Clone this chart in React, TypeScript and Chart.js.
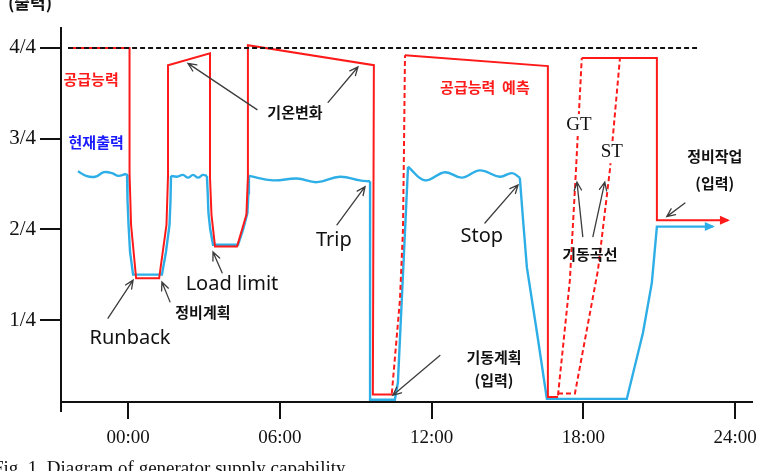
import React, { useEffect, useRef } from "react";
import { Chart, registerables } from "chart.js";

Chart.register(...registerables);

type P = [number, number];

// ---- axes ----
const xTicks = [0, 6, 12, 18, 24];
const xTickLabels = ["00:00", "06:00", "12:00", "18:00", "24:00"];
const yTicks = [1, 2, 3, 4];
const yTickLabels = ["1/4", "2/4", "3/4", "4/4"];

// ---- series (x = hour, y = output in quarters of rated) ----
const ratedCapacity: P[] = [[-2.37, 4.0], [22.61, 4.0]];

const redCapability: P[] = [
  [-2.37, 4.0], [0.06, 4.0], [0.06, 2.62], [0.12, 2.05], [0.32, 1.46], [1.23, 1.46],
  [1.52, 2.05], [1.58, 2.58], [1.58, 3.81], [3.24, 3.94], [3.24, 2.58], [3.3, 2.16],
  [3.44, 1.81], [4.31, 1.81], [4.68, 2.16], [4.74, 2.58], [4.74, 4.03], [9.72, 3.81],
  [9.68, 0.18], [10.47, 0.18],
];
const redForecastRise: P[] = [[10.43, 0.19], [10.75, 1.22], [10.87, 1.99], [10.91, 2.88], [10.95, 3.92]];
const redForecast: P[] = [[10.95, 3.92], [16.6, 3.8], [16.6, 0.15], [17.0, 0.15]];
const gtStartCurve: P[] = [[17.0, 0.17], [17.47, 1.44], [17.71, 2.65], [17.94, 3.89]];
const stStartCurve: P[] = [[17.0, 0.19], [17.67, 0.19], [18.58, 1.55], [19.05, 2.65], [19.45, 3.89]];
const redAfterStart: P[] = [[17.94, 3.89], [20.91, 3.89], [20.91, 2.1], [23.72, 2.1]];

const blueWave1: P[] = [[-1.98, 2.64], [-1.66, 2.59], [-1.3, 2.58], [-0.95, 2.63], [-0.63, 2.62], [-0.4, 2.59], [-0.08, 2.61]];
const blueRunback: P[] = [
  [-0.08, 2.61], [-0.04, 2.6], [-0.02, 2.32], [0.02, 2.05], [0.08, 1.75], [0.2, 1.5], [1.34, 1.5],
  [1.5, 1.75], [1.64, 2.05], [1.68, 2.32], [1.7, 2.59],
];
const blueWave2: P[] = [[1.7, 2.59], [1.94, 2.58], [2.17, 2.6], [2.37, 2.57], [2.57, 2.6], [2.77, 2.57], [2.96, 2.6], [3.12, 2.59]];
const blueLoadLimit: P[] = [
  [3.12, 2.59], [3.15, 2.4], [3.18, 2.18], [3.25, 2.0], [3.36, 1.83], [4.35, 1.83],
  [4.55, 2.0], [4.72, 2.18], [4.76, 2.4], [4.78, 2.59],
];
const blueWave3: P[] = [[4.78, 2.59], [5.73, 2.54], [6.68, 2.56], [7.47, 2.52], [8.38, 2.58], [9.17, 2.54], [9.49, 2.53], [9.57, 2.53]];
const blueTrip: P[] = [[9.57, 2.53], [9.57, 0.12], [10.55, 0.12], [10.67, 0.31], [11.07, 2.69]];
const blueWave4: P[] = [[11.07, 2.69], [11.74, 2.54], [12.53, 2.63], [13.2, 2.57], [13.91, 2.65], [14.7, 2.58], [15.18, 2.62], [15.49, 2.57]];
const blueStop: P[] = [
  [15.49, 2.57], [15.62, 2.1], [15.77, 1.58], [16.17, 0.86], [16.56, 0.13], [19.72, 0.13],
  [20.36, 0.86], [20.71, 1.41], [20.91, 2.03], [23.12, 2.03],
];

// arrow heads at line ends: [x, y, color]
const lineEnds: [number, number, string][] = [[23.72, 2.1, "#ff1a1a"], [23.12, 2.03, "#2eaee6"]];

// pointer arrows: [fromX, fromY, toX, toY]
const pointers: [number, number, number, number][] = [
  [5.1, 3.32, 2.37, 3.83],
  [7.91, 3.4, 9.09, 3.79],
  [-0.79, 1.02, 0.2, 1.44],
  [1.66, 1.2, 1.34, 1.42],
  [3.72, 1.52, 3.36, 1.75],
  [8.26, 2.05, 9.37, 2.47],
  [14.11, 2.07, 15.42, 2.49],
  [12.33, 0.61, 10.47, 0.17],
  [17.98, 1.92, 17.75, 2.52],
  [18.38, 1.92, 18.85, 2.52],
  [22.02, 2.29, 21.3, 2.14],
];

const KR = '"Noto Sans CJK KR", sans-serif';
const EN = '"Noto Sans", sans-serif';
const SERIF = '"Liberation Serif", "Times New Roman", serif';

// labels: [text, x, y, color, font, whiteBg]
const labels: [string, number, number, string, string, boolean][] = [
  ["공급능력", -1.46, 3.65, "#ff1a1a", `bold 15px ${KR}`, false],
  ["현재출력", -1.26, 2.96, "#1a1aff", `bold 15px ${KR}`, false],
  ["공급능력  예측", 14.11, 3.57, "#ff1a1a", `bold 15px ${KR}`, false],
  ["기온변화", 6.6, 3.29, "#111", `bold 15px ${KR}`, false],
  ["Runback", 0.08, 0.8, "#111", `20px ${EN}`, false],
  ["정비계획", 2.96, 1.09, "#111", `bold 15px ${KR}`, false],
  ["Load limit", 4.11, 1.39, "#111", `20px ${EN}`, false],
  ["Trip", 8.14, 1.88, "#111", `20px ${EN}`, false],
  ["Stop", 13.99, 1.92, "#111", `20px ${EN}`, false],
  ["기동계획", 14.47, 0.59, "#111", `bold 15px ${KR}`, false],
  ["(입력)", 14.47, 0.34, "#111", `bold 15px ${KR}`, false],
  ["기동곡선", 18.26, 1.72, "#111", `bold 15px ${KR}`, false],
  ["GT", 17.83, 3.15, "#111", `19px ${SERIF}`, true],
  ["ST", 19.13, 2.85, "#111", `19px ${SERIF}`, true],
  ["정비작업", 23.2, 2.8, "#111", `bold 15px ${KR}`, false],
  ["(입력)", 23.2, 2.51, "#111", `bold 15px ${KR}`, false],
];

const caption = "Fig. 1. Diagram of generator supply capability";
const yTitle = "(출력)";

const RED = "#ff1a1a";
const BLUE = "#2eaee6";

function ds(points: P[], color: string, opts: any = {}) {
  return {
    data: points.map(([x, y]) => ({ x, y })),
    borderColor: color,
    backgroundColor: color,
    borderWidth: 2,
    pointRadius: 0,
    showLine: true,
    fill: false,
    tension: 0,
    ...opts,
  };
}

const overlay = {
  id: "overlay",
  afterDatasetsDraw(chart: any) {
    const { ctx } = chart;
    const xs = chart.scales.x;
    const ys = chart.scales.y;
    const px = (h: number) => xs.getPixelForValue(h);
    const py = (v: number) => ys.getPixelForValue(v);
    ctx.save();
    for (const [h, v, c] of lineEnds) {
      const x = px(h);
      const y = py(v);
      ctx.fillStyle = c;
      ctx.beginPath();
      ctx.moveTo(x + 2, y);
      ctx.lineTo(x - 8, y - 4.5);
      ctx.lineTo(x - 8, y + 4.5);
      ctx.closePath();
      ctx.fill();
    }
    ctx.strokeStyle = "#3c3c3c";
    ctx.lineWidth = 1.3;
    ctx.lineCap = "round";
    for (const [h0, v0, h1, v1] of pointers) {
      const x0 = px(h0), y0 = py(v0), x1 = px(h1), y1 = py(v1);
      const a = Math.atan2(y1 - y0, x1 - x0);
      ctx.beginPath();
      ctx.moveTo(x0, y0);
      ctx.lineTo(x1, y1);
      const L = 9, w = 0.42;
      ctx.moveTo(x1 - L * Math.cos(a - w), y1 - L * Math.sin(a - w));
      ctx.lineTo(x1, y1);
      ctx.lineTo(x1 - L * Math.cos(a + w), y1 - L * Math.sin(a + w));
      ctx.stroke();
    }
    ctx.textAlign = "center";
    ctx.textBaseline = "middle";
    for (const [t, h, v, c, f, bg] of labels) {
      ctx.font = f;
      const x = px(h), y = py(v);
      if (bg) {
        const w = ctx.measureText(t).width;
        ctx.fillStyle = "#fff";
        ctx.fillRect(x - w / 2 - 2, y - 11, w + 4, 22);
      }
      ctx.fillStyle = c;
      ctx.fillText(t, x, y);
    }
    ctx.restore();
  },
  afterDraw(chart: any) {
    const { ctx } = chart;
    const xs = chart.scales.x;
    const ys = chart.scales.y;
    ctx.save();
    ctx.strokeStyle = "#111";
    ctx.lineWidth = 2;
    ctx.beginPath();
    ctx.moveTo(xs.left, ys.bottom);
    ctx.lineTo(xs.left, ys.bottom + 10);
    ctx.stroke();
    ctx.fillStyle = "#111";
    ctx.font = `bold 17px ${KR}`;
    ctx.textAlign = "center";
    ctx.textBaseline = "middle";
    ctx.fillText(yTitle, 30, 3);
    ctx.font = `19px ${SERIF}`;
    ctx.textAlign = "left";
    ctx.textBaseline = "alphabetic";
    ctx.fillText(caption, -7, 474);
    ctx.restore();
  },
};

export default function App() {
  const ref = useRef<HTMLCanvasElement | null>(null);
  useEffect(() => {
    if (!ref.current) return;
    const chart = new Chart(ref.current, {
      type: "scatter",
      data: {
        datasets: [
          ds(ratedCapacity, "#111", { borderDash: [5, 3], order: 0 }),
          ds(redCapability, RED, { order: 1 }),
          ds(redForecastRise, RED, { borderDash: [5, 3], order: 1 }),
          ds(redForecast, RED, { order: 1 }),
          ds(gtStartCurve, RED, { borderDash: [5, 3], order: 1 }),
          ds(stStartCurve, RED, { borderDash: [5, 3], order: 1 }),
          ds(redAfterStart, RED, { order: 1 }),
          ds(blueWave1, BLUE, { tension: 0.4, order: 2, borderWidth: 2.4 }),
          ds(blueRunback, BLUE, { order: 2, borderWidth: 2.4 }),
          ds(blueWave2, BLUE, { tension: 0.4, order: 2, borderWidth: 2.4 }),
          ds(blueLoadLimit, BLUE, { order: 2, borderWidth: 2.4 }),
          ds(blueWave3, BLUE, { tension: 0.4, order: 2, borderWidth: 2.4 }),
          ds(blueTrip, BLUE, { order: 2, borderWidth: 2.4 }),
          ds(blueWave4, BLUE, { tension: 0.4, order: 2, borderWidth: 2.4 }),
          ds(blueStop, BLUE, { order: 2, borderWidth: 2.4 }),
        ],
      },
      options: {
        responsive: false,
        animation: false,
        events: [],
        layout: { padding: { top: 28, right: 13, left: 0, bottom: 0 } },
        plugins: { legend: { display: false }, tooltip: { enabled: false } },
        scales: {
          x: {
            type: "linear",
            min: -2.65,
            max: 24.66,
            afterBuildTicks: (s: any) => {
              s.ticks = xTicks.map((v) => ({ value: v }));
            },
            afterFit: (s: any) => {
              s.height = 69;
            },
            ticks: {
              autoSkip: false,
              maxRotation: 0,
              padding: 8,
              color: "#111",
              font: { family: '"Liberation Serif", serif', size: 19 },
              callback: (v: any) => {
                const i = xTicks.indexOf(Number(v));
                return i >= 0 ? xTickLabels[i] : "";
              },
            },
            grid: { drawOnChartArea: false, drawTicks: true, tickLength: 17, color: "#111", lineWidth: 2, tickColor: "#111", tickWidth: 2 },
            border: { display: true, color: "#111", width: 2 },
          },
          y: {
            type: "linear",
            min: 0.096,
            max: 4.22,
            afterBuildTicks: (s: any) => {
              s.ticks = yTicks.map((v) => ({ value: v }));
            },
            afterFit: (s: any) => {
              s.width = 61;
            },
            ticks: {
              autoSkip: false,
              padding: 4,
              color: "#111",
              font: { family: '"Liberation Serif", serif', size: 21 },
              callback: (v: any) => {
                const i = yTicks.indexOf(Number(v));
                return i >= 0 ? yTickLabels[i] : "";
              },
            },
            grid: { drawOnChartArea: false, drawTicks: true, tickLength: 21, color: "#111", lineWidth: 2, tickColor: "#111", tickWidth: 2 },
            border: { display: true, color: "#111", width: 2 },
          },
        },
      },
      plugins: [overlay],
    } as any);
    return () => chart.destroy();
  }, []);
  return (
    <div style={{ position: "fixed", left: 0, top: 0, width: 765, height: 471, background: "#fff" }}>
      <canvas ref={ref} width={765} height={471} style={{ width: 765, height: 471 }} />
    </div>
  );
}
